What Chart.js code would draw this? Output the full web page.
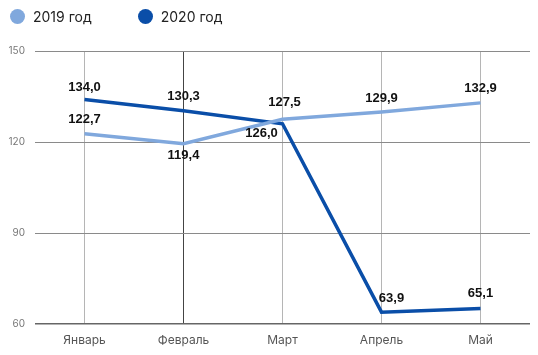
<!DOCTYPE html>
<html>
<head>
<meta charset="utf-8">
<script src="https://cdn.jsdelivr.net/npm/chart.js@4/dist/chart.umd.min.js"></script>
<style>
  body { margin: 0; background: #fff; }
  #wrap { position: relative; width: 538px; height: 355px; }
  #legend { position: absolute; left: 10px; top: 8px; font: 14px Inter, "Noto Sans", sans-serif; color: #222; }
  #legend span.item { display: inline-flex; align-items: center; margin-right: 46px; }
  #legend span.dot { display: inline-block; width: 15px; height: 15px; border-radius: 50%; margin-right: 8px; }
</style>
</head>
<body>
<div id="wrap">
  <canvas id="lineChart" width="538" height="355"></canvas>
  <div id="legend"></div>
</div>
<script>
// данные
var months = ["Январь", "Февраль", "Март", "Апрель", "Май"];
var values2019 = [122.7, 119.4, 127.5, 129.9, 132.9];
var values2020 = [134.0, 130.3, 126.0, 63.9, 65.1];
var seriesNames = ["2019 год", "2020 год"];
var yTicks = [60, 90, 120, 150];

var colors = ["#80a8dd", "#0a4ea8"];

// html legend
var legendHtml = "";
seriesNames.forEach(function (name, i) {
    legendHtml += '<span class="item"><span class="dot" style="background:' + colors[i] + '"></span>' + name + '</span>';
});
document.getElementById("legend").innerHTML = legendHtml;

// подписи значений (смещения задаются вручную для каждой точки)
const valueLabels = {
    id: "valueLabels",
    afterDatasetsDraw(chart, args, opts) {
        const ctx = chart.ctx;
        ctx.save();
        ctx.font = "bold 13px 'Liberation Sans', Arial, sans-serif";
        ctx.fillStyle = "#111";
        ctx.textAlign = "center";
        ctx.textBaseline = "middle";
        chart.data.datasets.forEach((ds, di) => {
            const meta = chart.getDatasetMeta(di);
            meta.data.forEach((pt, i) => {
                const off = opts.offsets[di][i];
                const txt = ds.data[i].toFixed(1).replace(".", ",");
                ctx.fillText(txt, pt.x + off[0], pt.y + off[1]);
            });
        });
        ctx.restore();
    }
};

const data = {
    labels: months,
    datasets: [{
        label: seriesNames[0],
        data: values2019,
        borderColor: colors[0],
        backgroundColor: colors[0],
        borderWidth: 3.5,
        pointRadius: 0,
        tension: 0
    }, {
        label: seriesNames[1],
        data: values2020,
        borderColor: colors[1],
        backgroundColor: colors[1],
        borderWidth: 3.5,
        pointRadius: 0,
        tension: 0
    }]
};

const options = {
    responsive: false,
    animation: false,
    layout: { padding: { top: 51, right: 8, left: 0, bottom: 0 } },
    plugins: {
        legend: { display: false },
        tooltip: { enabled: false },
        valueLabels: {
            offsets: [
                [[0, -14], [0, 12], [2, -17], [0, -14], [0, -14]],
                [[0, -12], [0, -14], [-21, 10], [10, -14], [0, -15]]
            ]
        }
    },
    scales: {
        x: {
            offset: true,
            grid: {
                color: (c) => c.index == 1 ? "#444" : "#b5b5b5",
                lineWidth: 1,
                drawTicks: false
            },
            border: { display: false },
            ticks: {
                color: "#555",
                padding: 9,
                font: { size: 12, family: "Inter, 'Noto Sans', sans-serif" }
            },
            afterFit: (s) => { s.height = 31; }
        },
        y: {
            min: 60,
            max: 150,
            afterBuildTicks: (s) => { s.ticks = yTicks.map(v => ({ value: v })); },
            grid: {
                color: (c) => c.tick && c.tick.value == 60 ? "#666" : "#8a8a8a",
                lineWidth: (c) => c.tick && c.tick.value == 60 ? 1.5 : 1,
                drawTicks: false
            },
            border: { display: false },
            ticks: {
                color: "#777",
                padding: 10,
                font: { size: 10, family: "Inter, 'Noto Sans', sans-serif" }
            },
            afterFit: (s) => { s.width = 35; }
        }
    }
};

new Chart("lineChart", { type: "line", data, options, plugins: [valueLabels] });
</script>
</body>
</html>
